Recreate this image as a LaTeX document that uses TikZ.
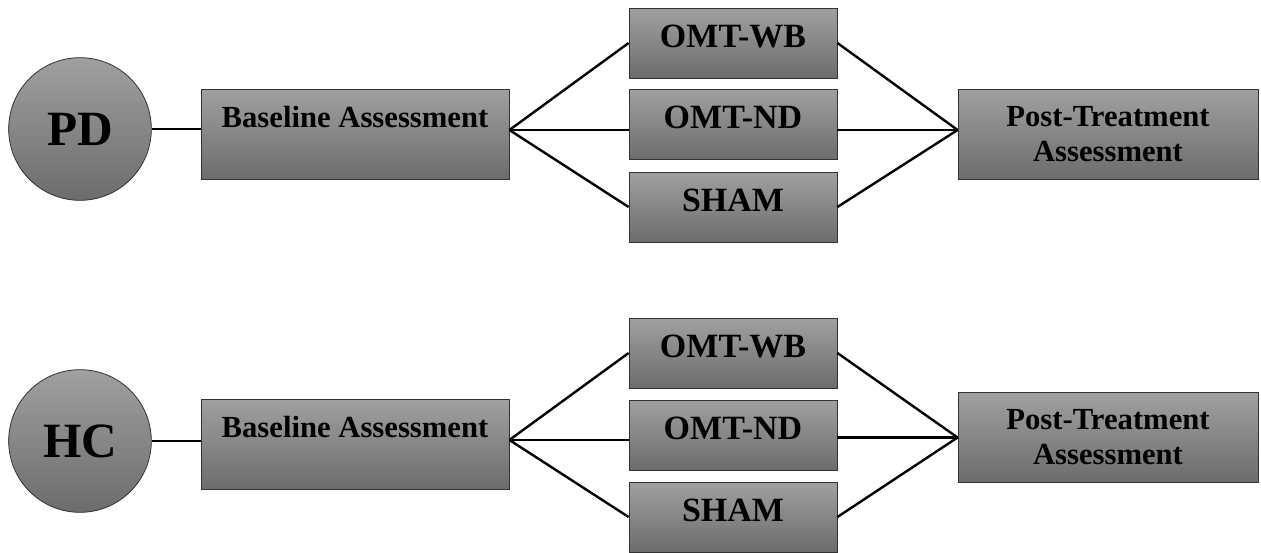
\documentclass[tikz,border=0pt]{standalone}
\usepackage{fontspec}
\setmainfont{Liberation Serif}
\definecolor{gtop}{RGB}{160,160,160}
\definecolor{gbot}{RGB}{108,108,108}
\definecolor{edgecol}{RGB}{50,50,50}
\begin{document}
\begin{tikzpicture}[x=0.75pt,y=-0.75pt,
  box/.style={draw=edgecol, line width=0.6pt, top color=gtop, bottom color=gbot, inner sep=0pt,
    font=\bfseries\fontsize{23}{26.25}\selectfont},
  basebox/.style={box, minimum width=231pt, text height=28.5pt, text depth=39pt},
  treat/.style={box, minimum width=156pt, text height=29.5pt, text depth=23pt,
    font=\bfseries\fontsize{25.5}{28}\selectfont},
  postbox/.style={box, minimum width=225pt, minimum height=67.5pt, align=center},
  grp/.style={circle, draw=edgecol, line width=0.6pt, top color=gtop, bottom color=gbot,
    minimum size=107pt, inner sep=0pt, font=\bfseries\fontsize{37}{40}\selectfont},
  conn/.style={line width=1.8pt, black}]
\useasboundingbox (0,0) rectangle (1261,553);

% top group
\node[grp] (pd) at (80,129) {PD};
\node[basebox] (base1) at (355,134) {Baseline Assessment};
\node[treat] (wb1) at (733,43) {OMT-WB};
\node[treat] (nd1) at (733,124.5) {OMT-ND};
\node[treat] (sham1) at (733,207) {SHAM};
\node[postbox] (post1) at (1108,134) {Post-Treatment\\Assessment};

% bottom group
\node[grp] (hc) at (80,441) {HC};
\node[basebox] (base2) at (355,444.5) {Baseline Assessment};
\node[treat] (wb2) at (733,353) {OMT-WB};
\node[treat] (nd2) at (733,435) {OMT-ND};
\node[treat] (sham2) at (733,517) {SHAM};
\node[postbox] (post2) at (1108,437.5) {Post-Treatment\\Assessment};

% connectors top
\coordinate (L1) at ([yshift=3pt]base1.east);
\coordinate (R1) at ([yshift=3pt]post1.west);
\draw[conn] (pd.east) -- (pd.east -| base1.west);
\draw[conn] (L1) -- (wb1.west);
\draw[conn] (L1) -- (L1 -| nd1.west);
\draw[conn] (L1) -- (sham1.west);
\draw[conn] (wb1.east) -- (R1);
\draw[conn] (R1 -| nd1.east) -- (R1);
\draw[conn] (sham1.east) -- (R1);

% connectors bottom
\coordinate (L2) at ([yshift=3.4pt]base2.east);
\coordinate (R2) at (post2.west);
\draw[conn] (hc.east) -- (hc.east -| base2.west);
\draw[conn] (L2) -- (wb2.west);
\draw[conn] (L2) -- (L2 -| nd2.west);
\draw[conn] (L2) -- (sham2.west);
\draw[conn] (wb2.east) -- (R2);
\draw[conn] (R2 -| nd2.east) -- (R2);
\draw[conn] (sham2.east) -- (R2);
\end{tikzpicture}
\end{document}
